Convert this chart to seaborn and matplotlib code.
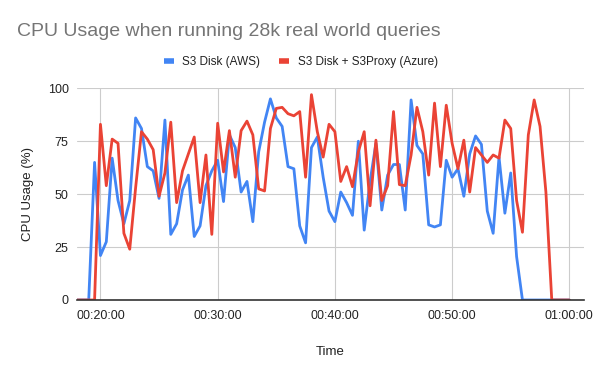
import numpy as np
import pandas as pd
import matplotlib
matplotlib.use("Agg")
import matplotlib.pyplot as plt
import seaborn as sns
from matplotlib.lines import Line2D
from matplotlib.ticker import FuncFormatter

# samples every 30 s, starting at 00:18:00
start_min = 18.0
step_min = 0.5

aws = [0, 0, 0, 65, 21, 27.5, 67, 47, 36, 47, 86, 81, 63, 61, 48,
       85, 31, 36, 52, 59, 30, 35, 54, 61, 66, 46.5, 78, 72, 51,
       56, 37, 70, 84, 95, 86, 82, 63, 62, 35, 27, 72, 77, 58, 42,
       37, 51, 46, 40, 75, 33, 56, 74, 42.5, 59, 64, 64, 42.5, 94.5,
       73, 69, 35.5, 34.5, 35.5, 66, 58, 62, 49, 69, 77.5, 73.5, 42, 31.5, 67.5,
       41, 60, 20.5, 0, 0, 0, 0, 0, 0, 0, 0, 0]

azure = [0, 0, 0, 0, 83, 54, 76, 74, 31.5, 24, 53, 79.5, 76, 71, 49,
         60, 84, 46, 61, 69, 77, 46, 68.5, 31, 83.5, 60.5, 80, 58, 80,
         84.5, 78, 52.5, 51.5, 81, 90.5, 91, 88, 87, 89, 58, 97, 79.5, 67.5, 83,
         79.5, 56, 63, 53.5, 70, 79.5, 44.5, 75.5, 47, 54, 89, 54.5, 54, 68.5,
         91, 79.5, 59, 93, 63, 92, 74, 62, 75.5, 51, 72, 68.5, 65, 68.5, 67,
         85, 81, 47, 32, 78, 94.5, 82, 51, 0, 0, 0, 0]

series_names = ["S3 Disk (AWS)", "S3 Disk + S3Proxy (Azure)"]
colors = ["#4285F4", "#EA4335"]

minutes = start_min + step_min * np.arange(len(aws))
df = pd.concat([
    pd.DataFrame({"minute": minutes, "cpu": aws, "series": series_names[0]}),
    pd.DataFrame({"minute": minutes, "cpu": azure, "series": series_names[1]}),
])

sns.set_style("white")
plt.rcParams["font.family"] = ["Liberation Sans", "DejaVu Sans"]

fig = plt.figure(figsize=(6, 3.71), dpi=100)
ax = fig.add_axes([77 / 600, 1 - 300 / 371, 507 / 600, 211.7 / 371])

sns.lineplot(data=df, x="minute", y="cpu", hue="series", hue_order=series_names,
             palette=colors, linewidth=2, ax=ax, legend=False)

ax.set_xlim(18, 61.25)
ax.set_ylim(0, 100)
ax.set_yticks([0, 25, 50, 75, 100])
ax.set_xticks([20, 30, 40, 50, 60])
ax.xaxis.set_major_formatter(FuncFormatter(
    lambda v, p: "%02d:%02d:00" % (int(v) // 60, int(v) % 60)))
ax.grid(True, color="#cccccc", linewidth=0.8)
ax.set_axisbelow(True)
for s in ["top", "right", "left"]:
    ax.spines[s].set_visible(False)
ax.spines["bottom"].set_color("#333333")
ax.spines["bottom"].set_linewidth(1.2)
ax.spines["bottom"].set_zorder(5)
ax.tick_params(length=0, labelsize=9, labelcolor="#222222")
ax.tick_params(axis="x", pad=7)
ax.tick_params(axis="y", pad=6)

ax.set_xlabel("Time", fontsize=9.5, color="#222222")
ax.xaxis.set_label_coords(0.5, -0.215)
ax.set_ylabel("")
fig.text(28 / 600, 1 - 194 / 371, "CPU Usage (%)", rotation=90,
         ha="center", va="center", fontsize=9.5, color="#222222")

fig.text(17 / 600, 1 - 32 / 371, "CPU Usage when running 28k real world queries",
         ha="left", va="center", fontsize=14, color="#757575")

handles = [Line2D([0], [0], color=c, linewidth=4, solid_capstyle="butt") for c in colors]
fig.legend(handles, series_names, loc="center", bbox_to_anchor=(301 / 600, 1 - 62 / 371),
           ncol=2, frameon=False, fontsize=8.5, handlelength=0.85, columnspacing=1.6,
           handletextpad=0.7, labelcolor="#222222")

fig.savefig("out.png", dpi=100)
